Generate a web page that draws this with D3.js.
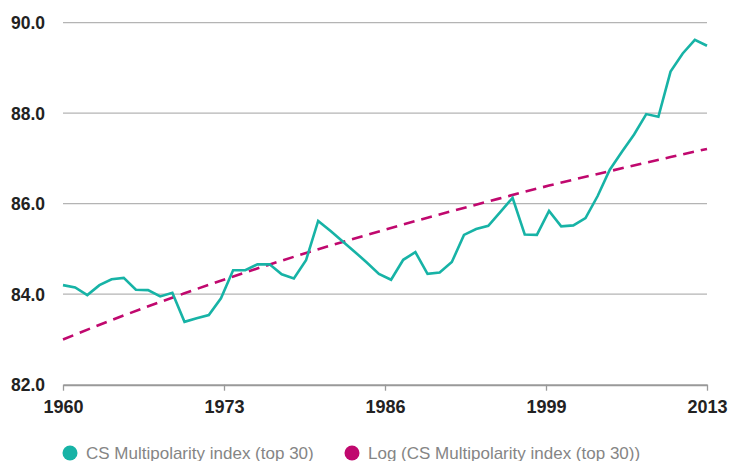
<!DOCTYPE html>
<meta charset="utf-8">
<head>
    <style>
        body { margin: 0; background: #fff; }
        svg { display: block; }
        .grid line { stroke: #b4b4b4; stroke-width: 1.3px; }
        .ylab, .xlab { font-family: "Liberation Sans", Arial, sans-serif; font-weight: bold; font-size: 17.5px; fill: #222; }
        .xlab { font-size: 18px; }
        .legend text { font-family: "Liberation Sans", Arial, sans-serif; font-size: 17px; fill: #858585; }
    </style>
    <script src="https://d3js.org/d3.v7.min.js"></script>
</head>
<body>
<script>
    // yearly values 1960..2013
    var years = d3.range(1960, 2014);
    var index = [84.20, 84.15, 83.98, 84.20, 84.33, 84.36, 84.10, 84.09, 83.95, 84.03,
                 83.39, 83.47, 83.54, 83.91, 84.53, 84.53, 84.66, 84.66, 84.44, 84.35,
                 84.75, 85.62, 85.40, 85.17, 84.94, 84.70, 84.45, 84.32, 84.76, 84.93,
                 84.45, 84.48, 84.71, 85.31, 85.44, 85.51, 85.82, 86.13, 85.32, 85.31,
                 85.84, 85.50, 85.52, 85.68, 86.17, 86.75, 87.15, 87.53, 87.98, 87.92,
                 88.92, 89.32, 89.62, 89.49];
    // log trend, read at a few years
    var trendYears = [1960, 1965, 1970, 1975, 1980, 1985, 1990, 1995, 2000, 2005, 2010, 2013];
    var trend = [83.00, 83.53, 84.02, 84.48, 84.91, 85.31, 85.69, 86.05, 86.40, 86.72, 87.03, 87.21];

    var yTicks = [82, 84, 86, 88, 90];
    var xTickVals = [1960, 1973.25, 1986.5, 1999.75, 2013];
    var xTickLabels = ["1960", "1973", "1986", "1999", "2013"];
    var seriesNames = ["CS Multipolarity index (top 30)", "Log (CS Multipolarity index (top 30))"];
    var colors = ["#17b3a6", "#c0086e"];

    var width = 731, height = 461;

    var x = d3.scaleLinear().domain([1960, 2013]).range([63, 707]);
    var y = d3.scaleLinear().domain([82, 90]).range([384.7, 22.7]);

    var svg = d3.select("body").append("svg")
        .attr("width", width)
        .attr("height", height);

    // gridlines (except the baseline, drawn as axis)
    svg.append("g").attr("class", "grid")
        .selectAll("line")
        .data(yTicks.filter(function(d) { return d > 82; }))
      .enter().append("line")
        .attr("x1", x(1960)).attr("x2", x(2013))
        .attr("y1", function(d) { return y(d); })
        .attr("y2", function(d) { return y(d); });

    svg.selectAll(".ylab")
        .data(yTicks)
      .enter().append("text")
        .attr("class", "ylab")
        .attr("x", 45)
        .attr("y", function(d) { return y(d); })
        .attr("dy", "0.36em")
        .attr("text-anchor", "end")
        .text(function(d) { return d.toFixed(1); });

    // x axis
    var xAxis = d3.axisBottom(x)
        .tickValues(xTickVals)
        .tickSize(6)
        .tickSizeOuter(0)
        .tickPadding(10)
        .tickFormat(function(d, i) { return xTickLabels[i]; });

    var gx = svg.append("g")
        .attr("transform", "translate(0," + y(82) + ")")
        .call(xAxis);
    gx.select(".domain").attr("stroke", "#999").attr("stroke-width", 2);
    gx.selectAll(".tick line").attr("stroke", "#999").attr("stroke-width", 1.3);
    gx.selectAll(".tick text").attr("class", "xlab").attr("fill", null).attr("font-size", null).attr("font-family", null);
    gx.attr("font-size", null).attr("font-family", null);

    // trend (dashed)
    var trendLine = d3.line()
        .x(function(d, i) { return x(trendYears[i]); })
        .y(function(d) { return y(d); })
        .curve(d3.curveMonotoneX);

    svg.append("path")
        .datum(trend)
        .attr("d", trendLine)
        .attr("fill", "none")
        .attr("stroke", colors[1])
        .attr("stroke-width", 2.6)
        .attr("stroke-dasharray", "11,7");

    // index line
    var line = d3.line()
        .x(function(d, i) { return x(years[i]); })
        .y(function(d) { return y(d); });

    svg.append("path")
        .datum(index)
        .attr("d", line)
        .attr("fill", "none")
        .attr("stroke", colors[0])
        .attr("stroke-width", 2.6)
        .attr("stroke-linejoin", "miter");

    // legend
    var legendX = [70, 352];
    var legend = svg.append("g").attr("class", "legend")
        .selectAll("g")
        .data(seriesNames)
      .enter().append("g")
        .attr("transform", function(d, i) { return "translate(" + legendX[i] + ",453)"; });

    legend.append("circle")
        .attr("r", 7.5)
        .attr("fill", function(d, i) { return colors[i]; });

    legend.append("text")
        .attr("x", 16)
        .attr("y", 5.5)
        .text(function(d) { return d; });
</script>
</body>
